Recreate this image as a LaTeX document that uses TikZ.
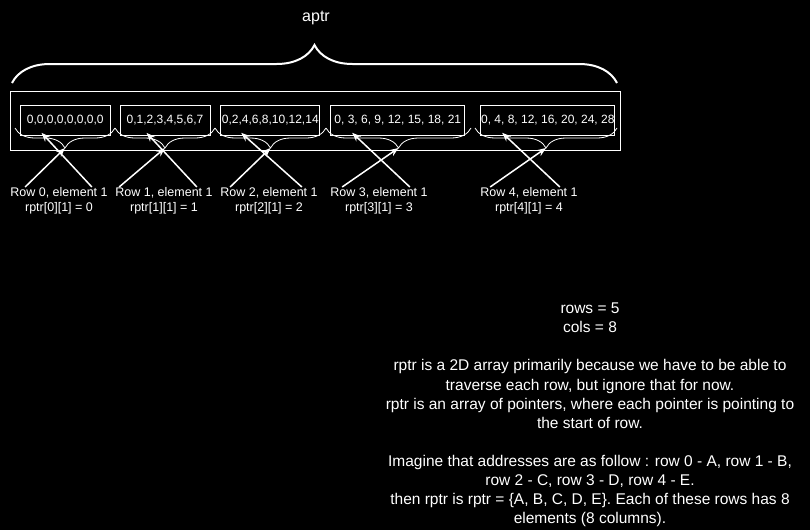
\documentclass[tikz,border=0pt]{standalone}
\usepackage{fontspec}
\setmainfont{Liberation Sans}
\usetikzlibrary{arrows.meta,decorations.pathreplacing}
\tikzset{
        cell/.style={draw=white, line width=1pt, minimum height=30pt, inner sep=0pt, font=\fontsize{12}{14}\selectfont},
        frame/.style={draw=white, line width=1pt, minimum width=610pt, minimum height=59pt},
        lbl/.style={align=center, inner sep=0pt, font=\fontsize{12.5}{15}\selectfont},
        ptr/.style={draw=white, line width=1.5pt, -{Stealth[length=9pt,width=7pt]}},
        bigbrace/.style={draw=white, line width=2pt, decorate, decoration={brace, amplitude=38pt}},
        rowbrace/.style={draw=white, line width=0.8pt, decorate, decoration={brace, mirror, amplitude=20pt}}
    }

\begin{document}
\begin{tikzpicture}[x=1pt, y=-1pt, every node/.style={text=white}]
            \fill[black] (0,0) rectangle (810,530);
            \useasboundingbox (0,0) rectangle (810,530);

            \node [font=\fontsize{16}{19}\selectfont] (aptr) at (316,18) {aptr};
            \draw [bigbrace] (12,83) -- (617,83);

            \node [frame] (arr) at (315,120.5) {};
            \node [cell, minimum width=89.5pt] (c0) at (65.3,120.3) {0,0,0,0,0,0,0,0};
            \node [cell, minimum width=90pt] (c1) at (165,120.3) {0,1,2,3,4,5,6,7};
            \node [cell, minimum width=99.3pt] (c2) at (270.3,120.3) {0,2,4,6,8,10,12,14};
            \node [cell, minimum width=134.3pt] (c3) at (397.8,120.3) {0, 3, 6, 9, 12, 15, 18, 21};
            \node [cell, minimum width=134.3pt] (c4) at (547.8,120.3) {0, 4, 8, 12, 16, 20, 24, 28};

            \draw [rowbrace] (15,128) -- (115,128);
            \draw [rowbrace] (115,128) -- (215,128);
            \draw [rowbrace] (215,128) -- (326,128);
            \draw [rowbrace] (326,128) -- (471,128);
            \draw [rowbrace] (475,128) -- (617,128);
            \coordinate (t0) at (65,148);
            \coordinate (t1) at (165,148);
            \coordinate (t2) at (270.5,148);
            \coordinate (t3) at (398.5,148);
            \coordinate (t4) at (546,148);

            \node [lbl] (l0) at (59,200.5) {Row 0, element 1\\rptr[0][1] = 0};
            \node [lbl] (l1) at (164,200.5) {Row 1, element 1\\rptr[1][1] = 1};
            \node [lbl] (l2) at (269,200.5) {Row 2, element 1\\rptr[2][1] = 2};
            \node [lbl] (l3) at (379,200.5) {Row 3, element 1\\rptr[3][1] = 3};
            \node [lbl] (l4) at (529,200.5) {Row 4, element 1\\rptr[4][1] = 4};

            \draw [ptr] ([xshift=15pt]l0.north west) -- (t0);
            \draw [ptr] ([xshift=-16pt]l0.north east) -- ([xshift=21.5pt,yshift=3pt]c0.south west);
            \draw [ptr] ([xshift=4pt]l1.north west) -- (t1);
            \draw [ptr] ([xshift=-16pt]l1.north east) -- ([xshift=27pt,yshift=3pt]c1.south west);
            \draw [ptr] ([xshift=10pt]l2.north west) -- (t2);
            \draw [ptr] ([xshift=-16pt]l2.north east) -- ([xshift=21pt,yshift=3pt]c2.south west);
            \draw [ptr] ([xshift=12pt]l3.north west) -- (t3);
            \draw [ptr] ([xshift=-18pt]l3.north east) -- ([xshift=22pt,yshift=3pt]c3.south west);
            \draw [ptr] ([xshift=10pt]l4.north west) -- (t4);
            \draw [ptr] ([xshift=-18pt]l4.north east) -- ([xshift=22pt,yshift=3pt]c4.south west);

            \node [align=center, inner sep=0pt, font=\fontsize{15.5}{19.1}\selectfont] (note) at (590,415)
                {rows = 5\\cols = 8\\[19.1pt]
                rptr is a 2D array primarily because we have to be able to\\
                traverse each row, but ignore that for now.\\
                rptr is an array of pointers, where each pointer is pointing to\\
                the start of row.\\[19.1pt]
                Imagine that addresses are as follow : row 0 - A, row 1 - B,\\
                row 2 - C, row 3 - D, row 4 - E.\\
                then rptr is rptr = \{A, B, C, D, E\}. Each of these rows has 8\\
                elements (8 columns).};
        \end{tikzpicture}
\end{document}
